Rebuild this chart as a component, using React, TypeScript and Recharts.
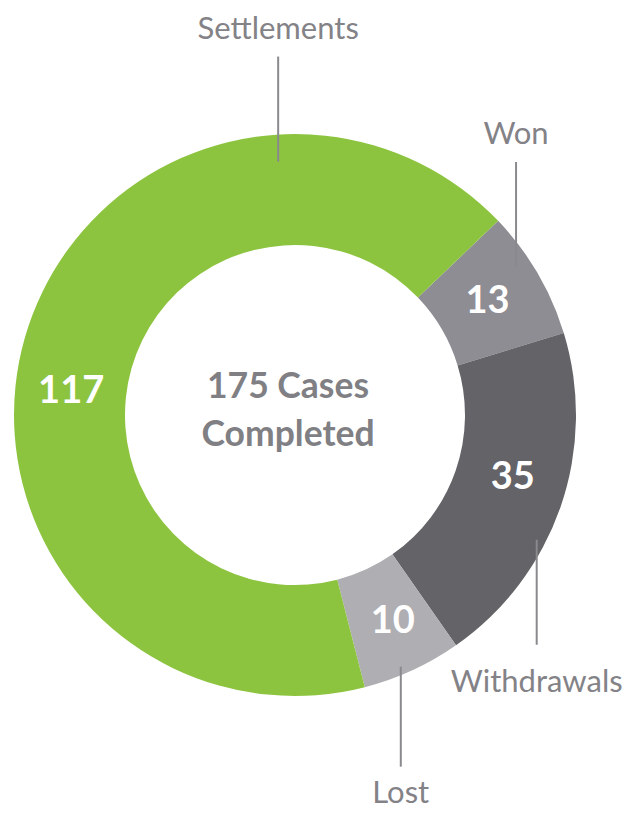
import { Cell, Pie, PieChart } from "recharts";

const categories = ["Won", "Withdrawals", "Lost", "Settlements"];
const caseCounts = [13, 35, 10, 117];
const sliceColors = ["#8e8d93", "#646367", "#afaeb3", "#8dc43f"];
const centerLines = ["175 Cases", "Completed"];

const cases = categories.map((name, i) => ({ name, value: caseCounts[i] }));

const RADIAN = Math.PI / 180;
const font = "Lato, 'Open Sans', sans-serif";
const labelGray = "#838287";

// hand-tuned placement of the value and callout for each slice
const valueNudge: Record<string, number> = { Won: 1, Withdrawals: 4, Lost: 1, Settlements: 9 };
const callout: Record<string, { angle: number; r: number; len: number; gap: number }> = {
  Settlements: { angle: 93.8, r: 254, len: 105, gap: 30 },
  Won: { angle: 33.8, r: 266, len: 105, gap: 30 },
  Withdrawals: { angle: -27.3, r: 272, len: 105, gap: 35 },
  Lost: { angle: -67.2, r: 273, len: 100, gap: 24 },
};

function SliceLabel(props: any) {
  const { cx, cy, midAngle, innerRadius, outerRadius, name, value } = props;
  const mid = (innerRadius + outerRadius) / 2;
  const va = (midAngle + (valueNudge[name] ?? 0)) * RADIAN;
  const vx = cx + mid * Math.cos(va);
  const vy = cy - mid * Math.sin(va);

  const c = callout[name];
  const ca = c.angle * RADIAN;
  const lx = cx + c.r * Math.cos(ca);
  const ly = cy - c.r * Math.sin(ca);
  const dir = Math.sin(ca) > 0 ? -1 : 1;
  const ey = ly + dir * c.len;

  return (
    <g>
      <text x={vx} y={vy} fill="#fff" fontFamily={font} fontWeight={700} fontSize={38} textAnchor="middle" dominantBaseline="central">
        {value}
      </text>
      <line x1={lx} y1={ly} x2={lx} y2={ey} stroke="#8a898e" strokeWidth={2} />
      <text x={lx} y={ey + dir * c.gap} fill={labelGray} fontFamily={font} fontSize={31} textAnchor="middle" dominantBaseline="central">
        {name}
      </text>
    </g>
  );
}

export default function App() {
  return (
    <div style={{ position: "absolute", left: 0, top: 0, width: 629, height: 814, background: "#fff" }}>
      <PieChart width={629} height={814} margin={{ top: 0, right: 0, bottom: 0, left: 0 }}>
        <Pie
          data={cases}
          dataKey="value"
          nameKey="name"
          cx={295}
          cy={415}
          innerRadius={170}
          outerRadius={281}
          startAngle={43.7}
          endAngle={43.7 - 360}
          stroke="none"
          label={SliceLabel}
          labelLine={false}
          isAnimationActive={false}
        >
          {cases.map((c, i) => (
            <Cell key={c.name} fill={sliceColors[i]} />
          ))}
        </Pie>
        <text x={288} y={384} fill="#807f84" fontFamily={font} fontWeight={700} fontSize={35.5} textAnchor="middle" dominantBaseline="central">
          {centerLines[0]}
        </text>
        <text x={288} y={432} fill="#807f84" fontFamily={font} fontWeight={700} fontSize={35.5} textAnchor="middle" dominantBaseline="central">
          {centerLines[1]}
        </text>
      </PieChart>
    </div>
  );
}
